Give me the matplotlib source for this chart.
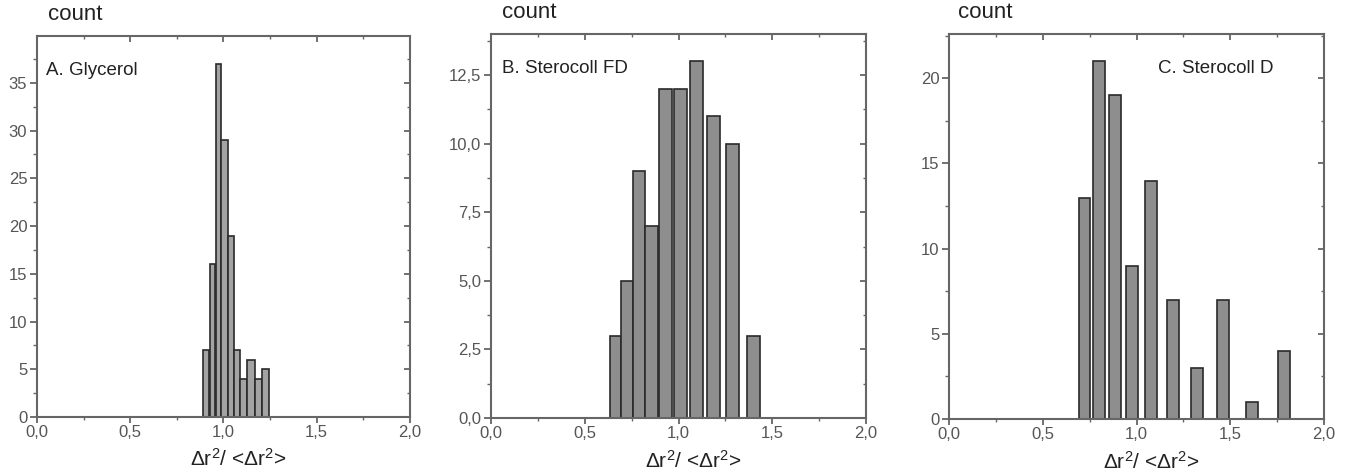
import matplotlib
matplotlib.use("Agg")
import matplotlib.pyplot as plt
from matplotlib.ticker import MultipleLocator, FuncFormatter

plt.rcParams['font.family'] = ['Liberation Sans', 'DejaVu Sans']
plt.rcParams['mathtext.fontset'] = 'custom'
plt.rcParams['mathtext.rm'] = 'Liberation Sans'
plt.rcParams['mathtext.it'] = 'Liberation Sans'
plt.rcParams['mathtext.default'] = 'regular'

# ---- data ----
a_centers = [0.908, 0.941, 0.972, 1.004, 1.038, 1.072, 1.107, 1.147, 1.186, 1.225]
a_widths = [0.032, 0.032, 0.029, 0.035, 0.033, 0.035, 0.036, 0.043, 0.036, 0.042]
a_counts = [7, 16, 37, 29, 19, 7, 4, 6, 4, 5]

b_centers = [0.665, 0.725, 0.789, 0.855, 0.929, 1.010, 1.096, 1.188, 1.287, 1.400]
b_widths = [0.057, 0.064, 0.064, 0.067, 0.068, 0.067, 0.068, 0.067, 0.067, 0.071]
b_counts = [3, 5, 9, 7, 12, 12, 13, 11, 10, 3]

c_centers = [0.722, 0.798, 0.884, 0.976, 1.079, 1.196, 1.322, 1.462, 1.618, 1.789]
c_widths = [0.060, 0.063, 0.064, 0.064, 0.064, 0.064, 0.068, 0.064, 0.064, 0.064]
c_counts = [13, 21, 19, 9, 14, 7, 3, 7, 1, 4]

x_ticks = [0.0, 0.5, 1.0, 1.5, 2.0]
labels = ["A. Glycerol", "B. Sterocoll FD", "C. Sterocoll D"]

W, H = 1348, 472
fig = plt.figure(figsize=(W / 100, H / 100), dpi=100)

# axes boxes in pixels: left, right, top, bottom
boxes = [(37, 410, 36, 417), (491, 866, 34, 418), (949, 1324, 34, 419)]

panels = [
    (a_centers, a_widths, a_counts, 39.9, 5, 2.5, "{:.0f}", "#a3a3a3", (0.025, 0.91, 'left')),
    (b_centers, b_widths, b_counts, 14, 2.5, 1.25, "{:.1f}", "#8e8e8e", (0.03, 0.91, 'left')),
    (c_centers, c_widths, c_counts, 22.6, 5, 2.5, "{:.0f}", "#8e8e8e", (0.865, 0.91, 'right')),
]

spine_col = "#666666"
tick_col = "#555555"

for i, (box, p) in enumerate(zip(boxes, panels)):
    l, r, t, b = box
    centers, widths, counts, ymax, ymaj, ymin_, fmt, fc, (tx, ty, ha) = p
    ax = fig.add_axes([l / W, 1 - b / H, (r - l) / W, (b - t) / H])
    ax.bar(centers, counts, width=widths, color=fc, edgecolor="#2a2a2a",
           linewidth=1.2, align='center', zorder=2)
    ax.set_xlim(0, 2.0)
    ax.set_ylim(0, ymax)
    ax.set_xticks(x_ticks)
    ax.xaxis.set_minor_locator(MultipleLocator(0.25))
    ax.yaxis.set_major_locator(MultipleLocator(ymaj))
    ax.yaxis.set_minor_locator(MultipleLocator(ymin_))
    ax.xaxis.set_major_formatter(FuncFormatter(lambda v, pos: ("{:.1f}".format(v)).replace('.', ',')))
    ax.yaxis.set_major_formatter(FuncFormatter(lambda v, pos, f=fmt: f.format(v).replace('.', ',')))
    for s in ax.spines.values():
        s.set_color(spine_col)
        s.set_linewidth(1.5)
    ax.tick_params(axis='both', which='both', colors=spine_col, labelcolor=tick_col,
                   labelsize=12)
    ax.tick_params(axis='x', which='major', direction='out', length=4, width=1.3, pad=2)
    ax.tick_params(axis='x', which='minor', direction='out', length=2.5, width=1.0)
    ax.tick_params(axis='y', which='major', direction='out', length=5, width=1.3, pad=2)
    ax.tick_params(axis='y', which='minor', direction='out', length=3, width=1.0)
    # inward ticks on top and right
    axt = ax.secondary_xaxis('top')
    axt.set_xticks(x_ticks)
    axt.xaxis.set_minor_locator(MultipleLocator(0.25))
    axt.tick_params(which='major', direction='in', length=4, width=1.3, colors=spine_col,
                    labeltop=False)
    axt.tick_params(which='minor', direction='in', length=2.5, width=1.0, colors=spine_col)
    axt.spines['top'].set_visible(False)
    axr = ax.secondary_yaxis('right')
    axr.yaxis.set_major_locator(MultipleLocator(ymaj))
    axr.yaxis.set_minor_locator(MultipleLocator(ymin_))
    axr.tick_params(which='major', direction='in', length=4, width=1.3, colors=spine_col,
                    labelright=False)
    axr.tick_params(which='minor', direction='in', length=2.5, width=1.0, colors=spine_col)
    axr.spines['right'].set_visible(False)

    ax.text(tx, ty, labels[i], transform=ax.transAxes, ha=ha, va='center',
            fontsize=13.5, color="#222222")
    ax.set_xlabel(r"Δr$^2$/ <Δr$^2$>", fontsize=15, color="#222222")
    ax.xaxis.set_label_coords(0.54, -0.082, transform=ax.transAxes)
    ax.xaxis.label.set_va('top')

# "count" labels
count_pos = [(48, 14), (502, 12), (958, 12)]
for (cx, cy) in count_pos:
    fig.text(cx / W, 1 - cy / H, "count", fontsize=16, color="#222222",
             ha='left', va='center')

fig.savefig("out.png", dpi=100)
